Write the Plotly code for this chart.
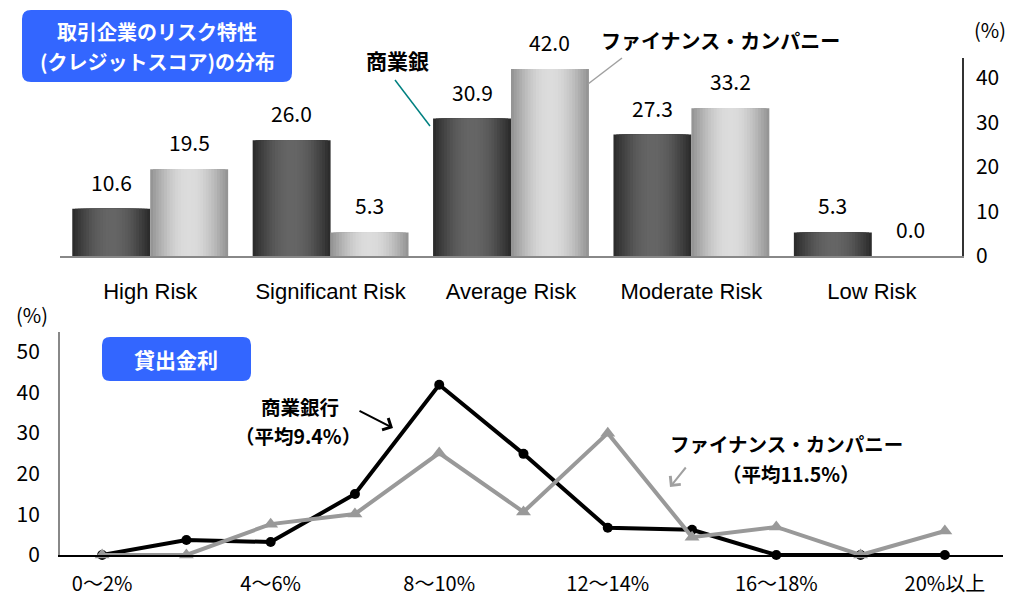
import math
import plotly.graph_objects as go

W, H = 1013, 598

# ---------------- data ----------------
risk_cats = ["High Risk", "Significant Risk", "Average Risk", "Moderate Risk", "Low Risk"]
bank_risk = [10.6, 26.0, 30.9, 27.3, 5.3]
fin_risk = [19.5, 5.3, 42.0, 33.2, 0.0]

rate_cats = ["0～2%", "2～4%", "4～6%", "6～8%", "8～10%", "10～12%",
             "12～14%", "14～16%", "16～18%", "18～20%", "20%以上"]
bank_rate = [0, 3.7, 3.2, 15.0, 41.9, 24.9, 6.7, 6.2, 0, 0, 0]
fin_rate = [0, 0, 7.6, 10.1, 25.1, 10.6, 30.0, 4.4, 6.9, 0, 5.9]
rate_tick_labels = ["0～2%", "4～6%", "8～10%", "12～14%", "16～18%", "20%以上"]

risk_yticks = [0, 10, 20, 30, 40]
rate_yticks = [0, 10, 20, 30, 40, 50]

# ---------------- helpers ----------------
JP = "Noto Sans CJK JP"
NUM = "Noto Sans CJK JP"
LAT = "Liberation Sans, Arial"


def px(x):
    return x / W


def py(y):
    return 1 - y / H


def hex2rgb(h):
    h = h.lstrip("#")
    return [int(h[i:i + 2], 16) for i in (0, 2, 4)]


def mix(c1, c2, t):
    a, b = hex2rgb(c1), hex2rgb(c2)
    return "rgb(%d,%d,%d)" % tuple(round(a[i] + (b[i] - a[i]) * t) for i in range(3))


def rrect(x0, y0, x1, y1, r):
    pts = [
        ("M", (x0 + r, y0)), ("L", (x1 - r, y0)), ("Q", (x1, y0), (x1, y0 + r)),
        ("L", (x1, y1 - r)), ("Q", (x1, y1), (x1 - r, y1)), ("L", (x0 + r, y1)),
        ("Q", (x0, y1), (x0, y1 - r)), ("L", (x0, y0 + r)), ("Q", (x0, y0), (x0 + r, y0)),
    ]
    s = ""
    for p in pts:
        s += p[0] + " " + " ".join("%.5f,%.5f" % (px(q[0]), py(q[1])) for q in p[1:]) + " "
    return s + "Z"


def label(x, y, text, size=20, color="black", family=JP):
    fig.add_annotation(x=px(x), y=py(y), xref="paper", yref="paper", showarrow=False,
                       xanchor="center", yanchor="middle", align="center",
                       text=text, font=dict(family=family, size=size, color=color))


fig = go.Figure()

# ---------------- top: gradient bars ----------------
BW = 0.432
N = 14
series = [
    (bank_risk, "#2c2c2c", "#656565", -1),
    (fin_risk, "#959595", "#dcdcdc", 1),
]
for vals, edge, center, sign in series:
    for k in range(N):
        frac = 1 - k / N
        w = BW * frac
        off = sign * BW / 2 - w / 2
        t = math.sin((k / (N - 1)) * math.pi / 2)
        fig.add_trace(go.Bar(
            x=risk_cats, y=vals, width=w, offset=off,
            marker=dict(color=mix(edge, center, t), line=dict(width=0)),
            xaxis="x", yaxis="y", showlegend=False, hoverinfo="skip",
        ))

for i, (b, f) in enumerate(zip(bank_risk, fin_risk)):
    for v, dx in ((b, -BW / 2), (f, BW / 2)):
        fig.add_annotation(x=i + dx, y=v, xref="x", yref="y", text="%.1f" % v,
                           showarrow=False, xanchor="center", yanchor="bottom", yshift=10,
                           font=dict(family=NUM, size=21, color="black"))

# ---------------- bottom: lines ----------------
fig.add_trace(go.Scatter(
    x=rate_cats, y=bank_rate, mode="lines+markers", xaxis="x2", yaxis="y2",
    line=dict(color="black", width=4),
    marker=dict(symbol="circle", size=10, color="black"),
    showlegend=False, cliponaxis=False, hoverinfo="skip",
))
fig.add_trace(go.Scatter(
    x=rate_cats, y=fin_rate, mode="lines+markers", xaxis="x2", yaxis="y2",
    line=dict(color="#999999", width=4),
    marker=dict(symbol="triangle-up", size=13, color="#999999"),
    showlegend=False, cliponaxis=False, hoverinfo="skip",
))

# ---------------- axes ----------------
fig.update_layout(
    width=W, height=H, margin=dict(l=0, r=0, t=0, b=0, autoexpand=False),
    autosize=False,
    paper_bgcolor="white", plot_bgcolor="white",
    barmode="overlay",
    xaxis=dict(domain=[px(60), px(962)], anchor="y", type="category",
               range=[-0.5, 4.5], showline=True, linecolor="#888888", linewidth=1.5,
               ticks="", showgrid=False, zeroline=False, fixedrange=True,
               tickfont=dict(family=LAT, size=22, color="black"), ticklabelstandoff=15),
    yaxis=dict(domain=[py(256), py(58)], anchor="x", side="right",
               range=[0, 44.5], tickvals=risk_yticks, showline=True, linecolor="#333333",
               linewidth=1.5, ticks="", showgrid=False, zeroline=False,
               tickfont=dict(family=NUM, size=21, color="black"), ticklabelstandoff=8),
    xaxis2=dict(domain=[px(60), px(1003)], anchor="y2", type="category",
                range=[-0.5, 10.69], tickvals=rate_tick_labels, ticktext=rate_tick_labels,
                showline=True, linecolor="black", linewidth=1.5, ticks="",
                showgrid=False, zeroline=False,
                tickfont=dict(family=NUM, size=20, color="black"), ticklabelstandoff=10),
    yaxis2=dict(domain=[py(555), py(332)], anchor="x2",
                range=[0, 54.9], tickvals=rate_yticks, showline=True, linecolor="#888888",
                linewidth=2, ticks="", showgrid=False, zeroline=False,
                tickfont=dict(family=NUM, size=21, color="black"), ticklabelstandoff=14),
)

# ---------------- title boxes ----------------
BLUE = "#3366FF"
fig.add_shape(type="path", path=rrect(22, 10, 292, 82, 9), xref="paper", yref="paper",
              fillcolor=BLUE, line=dict(width=0), layer="below")
label(157, 32, "<b>取引企業のリスク特性</b>", size=20, color="white")
label(157, 61, "<b>(クレジットスコア)の分布</b>", size=20, color="white")
fig.add_shape(type="path", path=rrect(102, 337, 251, 381, 8), xref="paper", yref="paper",
              fillcolor=BLUE, line=dict(width=0), layer="below")
label(176, 359, "<b>貸出金利</b>", size=21, color="white")

# ---------------- labels ----------------
label(990, 30, "(%)", size=20, family=NUM)
label(32, 314, "(%)", size=20, family=NUM)

label(397, 60, "<b>商業銀</b>", size=21)
fig.add_shape(type="line", x0=px(395), y0=py(80), x1=px(430), y1=py(126),
              xref="paper", yref="paper", line=dict(color="#008080", width=1.5))
label(720, 41, "<b>ファイナンス・カンパニー</b>", size=20)
fig.add_shape(type="line", x0=px(588), y0=py(84), x1=px(622), y1=py(58),
              xref="paper", yref="paper", line=dict(color="#a0a0a0", width=1.5))

label(300, 406, "<b>商業銀行</b>", size=19.5)
label(298, 435, "<b>（平均9.4%）</b>", size=19.5)
fig.add_annotation(x=px(393), y=py(428), xref="paper", yref="paper", text="",
                   showarrow=True, ax=-35, ay=-18, arrowhead=4, arrowsize=1.3,
                   arrowwidth=2, arrowcolor="black")

label(786, 444, "<b>ファイナンス・カンパニー</b>", size=19.5)
label(791, 473, "<b>（平均11.5%）</b>", size=19.5)
fig.add_annotation(x=px(670), y=py(487), xref="paper", yref="paper", text="",
                   showarrow=True, ax=17, ay=-21, arrowhead=4, arrowsize=1.3,
                   arrowwidth=2, arrowcolor="#a0a0a0")

fig.write_html("out.html")
